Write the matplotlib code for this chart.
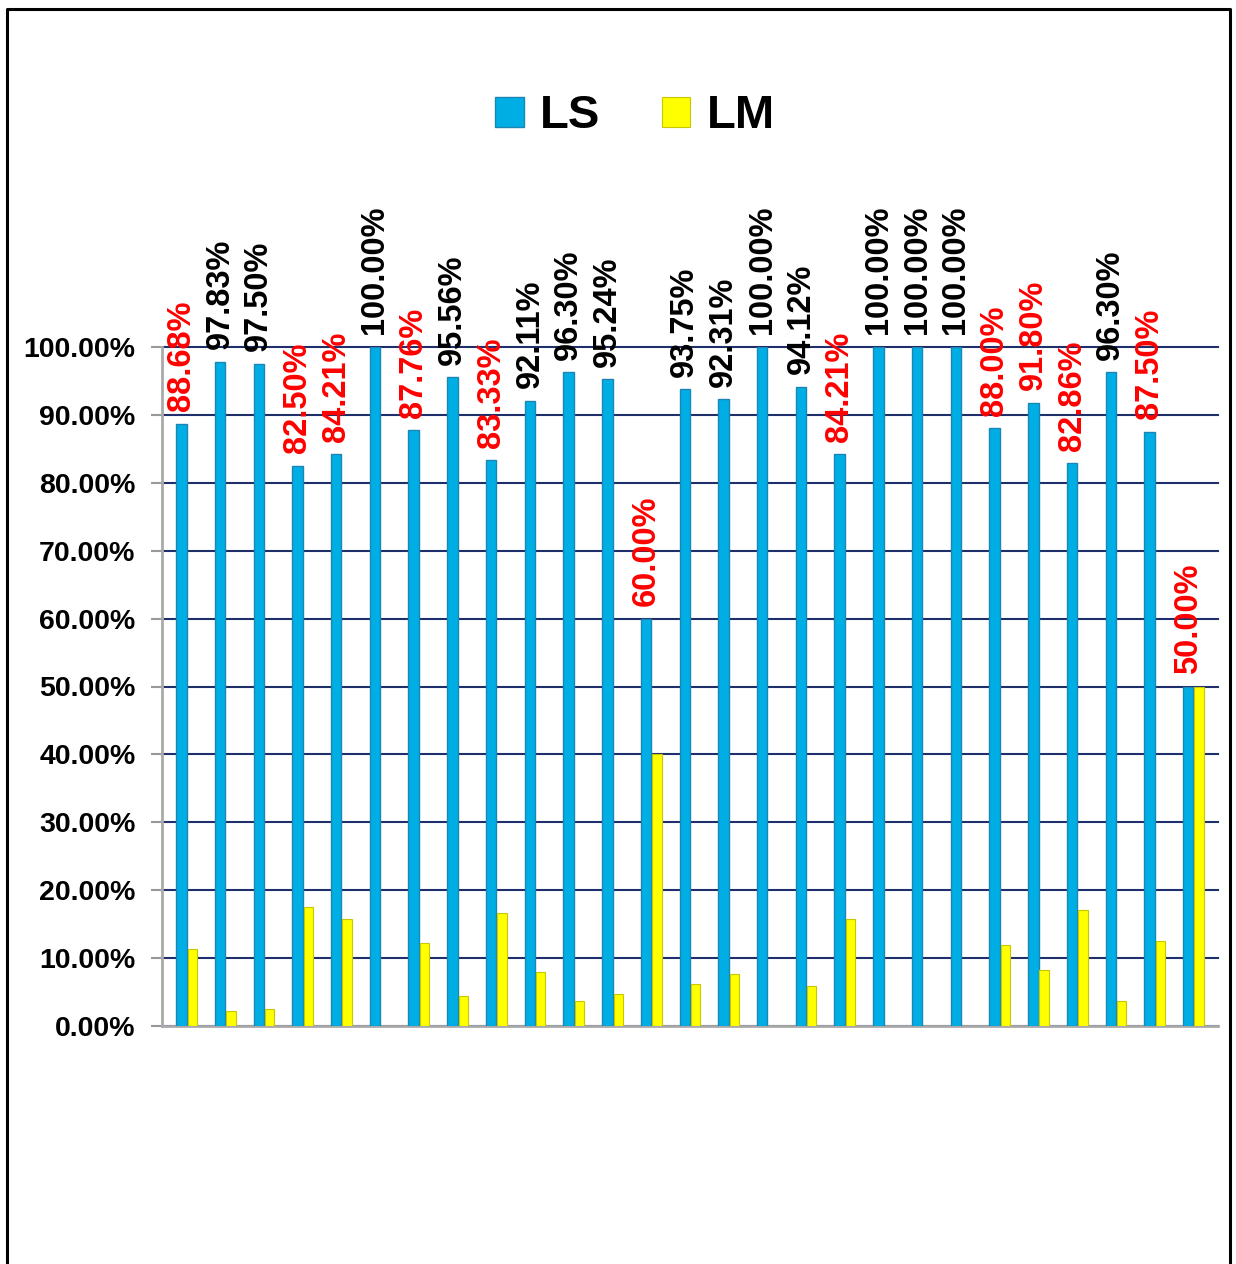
import numpy as np
import matplotlib
matplotlib.use("Agg")
import matplotlib.pyplot as plt
from matplotlib.lines import Line2D

# === Data ===
ls_values = [88.68, 97.83, 97.50, 82.50, 84.21, 100.00, 87.76, 95.56, 83.33,
             92.11, 96.30, 95.24, 60.00, 93.75, 92.31, 100.00, 94.12, 84.21,
             100.00, 100.00, 100.00, 88.00, 91.80, 82.86, 96.30, 87.50, 50.00]
lm_values = [11.32, 2.17, 2.50, 17.50, 15.79, 0.00, 12.24, 4.44, 16.67,
             7.89, 3.70, 4.76, 40.00, 6.25, 7.69, 0.00, 5.88, 15.79,
             0.00, 0.00, 0.00, 12.00, 8.20, 17.14, 3.70, 12.50, 50.00]
series_names = ["LS", "LM"]
y_ticks = [0, 10, 20, 30, 40, 50, 60, 70, 80, 90, 100]

plt.rcParams['font.family'] = ['Liberation Sans', 'DejaVu Sans']

fig = plt.figure(figsize=(12.36, 12.64), dpi=100, facecolor='white')
ax = fig.add_axes([162 / 1236, 238 / 1264, (1218 - 162) / 1236, 679 / 1264])

x = np.arange(len(ls_values))
ls_bars = ax.bar(x, ls_values, width=0.27, color='#00AEE6', edgecolor='#1B86B4',
                 linewidth=1.0, label=series_names[0], zorder=3)
lm_bars = ax.bar(x + 0.28, lm_values, width=0.24, color='#FFFF00', edgecolor='#C8C800',
                 linewidth=0.8, label=series_names[1], zorder=3)

# value labels above LS bars (red below 92%)
for xi, v in zip(x, ls_values):
    col = 'red' if v < 92 else 'black'
    ax.annotate(f"{v:.2f}%", (xi, v), xytext=(0, 9), textcoords='offset points',
                rotation=90, ha='center', va='bottom', fontsize=23.5,
                fontweight='bold', color=col, annotation_clip=False, zorder=5)

# grid
ax.set_ylim(0, 100)
ax.set_xlim(-0.5, 26.77)
for t in y_ticks:
    ax.axhline(t, color='#1F2F6B', linewidth=1.5, zorder=1, clip_on=False)

ax.set_yticks(y_ticks)
ax.set_yticklabels([f"{t:.2f}%" for t in y_ticks], fontsize=20.5, fontweight='bold')
ax.tick_params(axis='y', length=8, color='#999999', width=1.5, pad=11)
ax.set_xticks([])

for s in ['top', 'right']:
    ax.spines[s].set_visible(False)
ax.spines['left'].set_color('#AAAAAA')
ax.spines['left'].set_linewidth(2)
ax.spines['bottom'].set_color('#AAAAAA')
ax.spines['bottom'].set_linewidth(2)

# legend at top
fig.legend(handles=[ls_bars, lm_bars], labels=series_names, loc='center',
           bbox_to_anchor=(0.514, 0.908), ncol=2, frameon=False,
           prop={'weight': 'bold', 'size': 34}, handlelength=0.6, handleheight=0.6,
           handletextpad=0.35, columnspacing=1.3)

# outer frame (left, top, right)
fx0, fx1, fy1 = 7 / 1236, 1229.5 / 1236, 1 - 9 / 1264
fig.add_artist(Line2D([fx0, fx0, fx1, fx1], [0, fy1, fy1, 0], color='black',
                      linewidth=2.2, transform=fig.transFigure))

plt.savefig("out.png", dpi=100, facecolor='white')
